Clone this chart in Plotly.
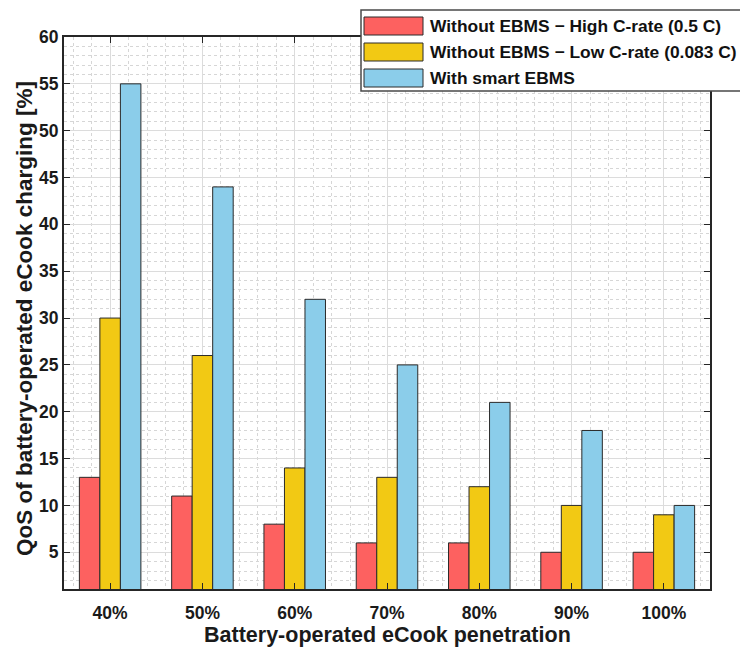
import plotly.graph_objects as go

# QoS of battery-operated eCook charging per penetration level
penetration = ["40%", "50%", "60%", "70%", "80%", "90%", "100%"]
high_c_rate = [13, 11, 8, 6, 6, 5, 5]
low_c_rate = [30, 26, 14, 13, 12, 10, 9]
smart_ebms = [55, 44, 32, 25, 21, 18, 10]

series_names = [
    "Without EBMS \u2212 High C-rate (0.5 C)",
    "Without EBMS \u2212 Low C-rate (0.083 C)",
    "With smart EBMS",
]
series_colors = ["#FD6160", "#F2C914", "#8BCDEA"]
series_values = [high_c_rate, low_c_rate, smart_ebms]

W, H = 740, 652
ML, MR, MT, MB = 64, 30, 37, 63
FONT = "Liberation Sans"
AXIS_DARK = "#262626"

x_pos = list(range(1, len(penetration) + 1))

fig = go.Figure()
for name, color, vals in zip(series_names, series_colors, series_values):
    fig.add_trace(go.Bar(
        x=x_pos, y=vals, name=name,
        marker=dict(color=color, line=dict(color="#2a2a2a", width=1)),
        showlegend=False,
    ))


def px_x(p):
    return (p - ML) / (W - ML - MR)


def px_y(p):
    return 1 - (p - MT) / (H - MT - MB)


axis_common = dict(
    showline=True, linecolor=AXIS_DARK, linewidth=2, mirror="ticks",
    ticks="inside", ticklen=6, tickwidth=1, tickcolor=AXIS_DARK,
    showgrid=True, gridcolor="#dcdcdc", gridwidth=1,
    zeroline=False,
    tickfont=dict(family=FONT, size=17.5, color="#1a1a1a", weight="bold"),
)

fig.update_layout(
    width=W, height=H,
    margin=dict(l=ML, r=MR, t=MT, b=MB),
    paper_bgcolor="white", plot_bgcolor="white",
    barmode="group", bargap=1 / 3, bargroupgap=0,
    xaxis=dict(
        range=[0.5, 7.5], tickmode="array", tickvals=x_pos, ticktext=penetration,
        ticklabelstandoff=7,
        minor=dict(tickmode="linear", tick0=0, dtick=0.2, showgrid=True,
                   gridcolor="#d6d6d6", griddash="dot", gridwidth=1),
        **axis_common,
    ),
    yaxis=dict(
        range=[1.08, 60], tickmode="linear", tick0=0, dtick=5,
        minor=dict(tickmode="linear", tick0=0, dtick=1, showgrid=True,
                   gridcolor="#d6d6d6", griddash="dot", gridwidth=1),
        **axis_common,
    ),
)

annotations = [
    dict(text="Battery-operated eCook penetration", xref="paper", yref="paper",
         x=px_x(387), y=px_y(635), xanchor="center", yanchor="middle",
         showarrow=False, font=dict(family=FONT, size=21.5, color="#1a1a1a", weight="bold")),
    dict(text="QoS of battery-operated eCook charging [%]", xref="paper", yref="paper",
         x=px_x(24), y=px_y(319), xanchor="center", yanchor="middle", textangle=-90,
         showarrow=False, font=dict(family=FONT, size=22.5, color="#1a1a1a", weight="bold")),
]

# Legend box drawn in the top-right corner
shapes = [dict(type="rect", xref="paper", yref="paper", layer="above",
               x0=px_x(361), x1=px_x(760), y0=px_y(10), y1=px_y(91),
               fillcolor="white", line=dict(color="#4a4a4a", width=1.5))]
swatch_tops = [17, 43, 69]
for name, color, top in zip(series_names, series_colors, swatch_tops):
    shapes.append(dict(type="rect", xref="paper", yref="paper", layer="above",
                       x0=px_x(364), x1=px_x(423), y0=px_y(top), y1=px_y(top + 18),
                       fillcolor=color, line=dict(color="#2a2a2a", width=1)))
    annotations.append(dict(text=name, xref="paper", yref="paper",
                            x=px_x(428), y=px_y(top + 9), xanchor="left", yanchor="middle",
                            showarrow=False,
                            font=dict(family=FONT, size=17.4, color="#111111", weight="bold")))

fig.update_layout(shapes=shapes, annotations=annotations)

fig.write_html("out.html")
